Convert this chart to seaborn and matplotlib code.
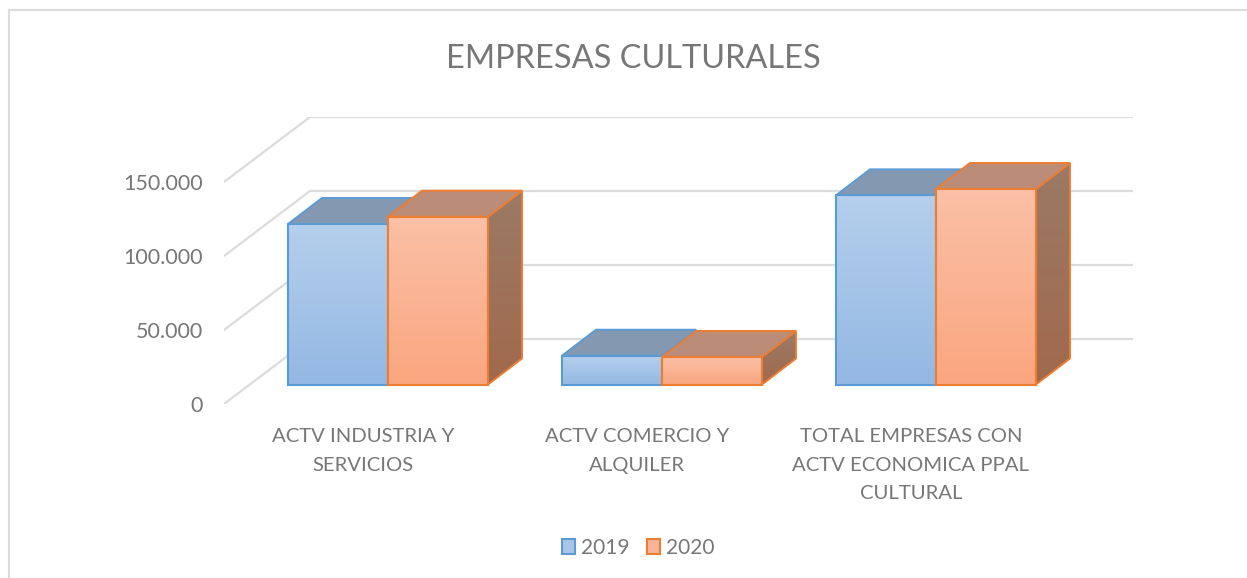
import numpy as np
import pandas as pd
import matplotlib
matplotlib.use("Agg")
import matplotlib.pyplot as plt
import seaborn as sns
from matplotlib.colors import to_rgb
from matplotlib.lines import Line2D
from matplotlib.patches import Patch, Polygon
from matplotlib.transforms import IdentityTransform, ScaledTranslation

categories = ["ACTV INDUSTRIA Y\nSERVICIOS", "ACTV COMERCIO Y\nALQUILER",
              "TOTAL EMPRESAS CON\nACTV ECONOMICA PPAL\nCULTURAL"]
values_2019 = [108450, 19450, 127800]
values_2020 = [113400, 18600, 132100]
series_names = ["2019", "2020"]
y_ticks = [0, 50000, 100000, 150000]
y_tick_labels = ["0", "50.000", "100.000", "150.000"]
title = "EMPRESAS CULTURALES"

W, H = 1247, 578
TEXT = "#777777"
GRID = "#dcdcdc"
EDGE = {"2019": "#5b9bd5", "2020": "#ed7d31"}
FRONT = {"2019": ("#b5cfec", "#93b8e3"), "2020": ("#fac0a6", "#fba680")}
TOP = {"2019": "#8499b1", "2020": "#bb8d78"}
SIDE = {"2019": ("#7f93a8", "#6f8aa5"), "2020": ("#9b7a66", "#a1694d")}
SWATCH = {"2019": "#a9c5e8", "2020": "#f8b49a"}

sns.set_theme(style="white")
plt.rcParams["font.family"] = ["Lato", "DejaVu Sans"]

df = pd.DataFrame({
    "categoria": categories * 2,
    "valor": values_2019 + values_2020,
    "serie": [series_names[0]] * 3 + [series_names[1]] * 3,
})

fig = plt.figure(figsize=(W / 100, H / 100), dpi=100, facecolor="white")
# pixel geometry of the plot area
L, R, TOP_PX, BOT_PX = 224, 1133, 117, 404
BASE_PX = 384.5          # value 0 on the plane of the bars
PX_PER_UNIT = 74 / 50000
ax = fig.add_axes([L / W, 1 - BOT_PX / H, (R - L) / W, (BOT_PX - TOP_PX) / H])
ax.patch.set_alpha(0)

sns.barplot(data=df, x="categoria", y="valor", hue="serie", palette=SWATCH,
            width=200 / 274, gap=0, legend=False, ax=ax, zorder=5)
ax.set_xlim((L - 388) / 274, (R - 388) / 274)
ax.set_ylim((BASE_PX - BOT_PX) / PX_PER_UNIT, (BASE_PX - TOP_PX) / PX_PER_UNIT)
ax.autoscale(False)
sns.despine(ax=ax, left=True, bottom=True, top=True, right=True)
ax.set_xlabel("")
ax.set_ylabel("")
ax.grid(False)

# walls and gridlines of the 3D box
FRONT_DY, BACK_DY = -19.5, 45.5
BACK_X = 310
for v in y_ticks:
    y0 = ax.transData.transform((0, v))[1]
    ax.add_line(Line2D([L, BACK_X, R], [y0 + FRONT_DY, y0 + BACK_DY, y0 + BACK_DY],
                       transform=IdentityTransform(), color=GRID, lw=1.6, zorder=1,
                       solid_joinstyle="miter"))


def gradient(pts, colors, zorder):
    pts = np.asarray(pts)
    inv = ax.transData.inverted()
    (x0, y0), (x1, y1) = inv.transform([pts.min(axis=0), pts.max(axis=0)])
    img = np.array([to_rgb(colors[0]), to_rgb(colors[1])])[:, None, :]
    t = np.linspace(0, 1, 64)[:, None, None]
    arr = img[0][None] * (1 - t) + img[1][None] * t
    im = ax.imshow(arr, extent=(x0, x1, y0, y1), aspect="auto", origin="upper",
                   zorder=zorder, interpolation="bilinear")
    clip = Polygon(pts, closed=True, transform=IdentityTransform())
    im.set_clip_path(clip)


DEPTH_X, DEPTH_Y = 34, 26
for s_i, (name, container) in enumerate(zip(series_names, ax.containers)):
    z = 3 + s_i * 2
    for bar in container:
        x, w, h = bar.get_x(), bar.get_width(), bar.get_height()
        (x0, y0), (x1, y1) = ax.transData.transform([(x, 0), (x + w, h)])
        d = np.array([DEPTH_X, DEPTH_Y])
        bl, br, tl, tr = map(np.array, [(x0, y0), (x1, y0), (x0, y1), (x1, y1)])
        # right side face
        side = [br, tr, tr + d, br + d]
        gradient(side, SIDE[name], z)
        ax.add_patch(Polygon(side, closed=True, transform=IdentityTransform(), fill=False,
                             edgecolor=EDGE[name], lw=1.4, zorder=z + 0.1, joinstyle="miter"))
        # top face
        ax.add_patch(Polygon([tl, tr, tr + d, tl + d], closed=True, transform=IdentityTransform(),
                             facecolor=TOP[name], edgecolor=EDGE[name], lw=1.4,
                             zorder=z + 0.1, joinstyle="miter"))
        # front face
        gradient([bl, br, tr, tl], FRONT[name], z + 0.2)
        bar.set_facecolor("none")
        bar.set_edgecolor(EDGE[name])
        bar.set_linewidth(1.5)
        bar.set_zorder(z + 0.3)
        bar.set_joinstyle("miter")

# tick labels sit on the front plane of the box
ax.set_xticks(range(len(categories)))
ax.set_xticklabels(categories, fontsize=14.55, color=TEXT, linespacing=1.8)
ax.tick_params(axis="x", length=0, pad=17.5)
ax.set_yticks(y_ticks)
ax.set_yticklabels(y_tick_labels, fontsize=15.5, color=TEXT)
ax.tick_params(axis="y", length=0, pad=15)
off_x = ScaledTranslation(-25 / 100, 0, fig.dpi_scale_trans)
off_y = ScaledTranslation(0, FRONT_DY / 100, fig.dpi_scale_trans)
for lab in ax.get_xticklabels():
    lab.set_transform(lab.get_transform() + off_x)
for lab in ax.get_yticklabels():
    lab.set_transform(lab.get_transform() + off_y)

fig.text(633 / W, 1 - 59.5 / H, title, ha="center", va="center", fontsize=23.45, color=TEXT)

handles = [Patch(facecolor=SWATCH[n], edgecolor=EDGE[n], lw=1.5, label=n) for n in series_names]
fig.legend(handles=handles, loc="center", bbox_to_anchor=(638.5 / W, 1 - 548 / H), ncol=2,
           frameon=False, fontsize=15, labelcolor=TEXT, handlelength=0.6, handleheight=0.75,
           handletextpad=0.3, columnspacing=0.85, borderpad=0, borderaxespad=0)

# chart frame (top and left edges visible)
fig.add_artist(Line2D([8.5 / W, 8.5 / W, 1], [0, 1 - 10 / H, 1 - 10 / H],
                      transform=fig.transFigure, color=GRID, lw=1.5, solid_joinstyle="miter"))

fig.savefig("out.png", dpi=100, facecolor="white")
